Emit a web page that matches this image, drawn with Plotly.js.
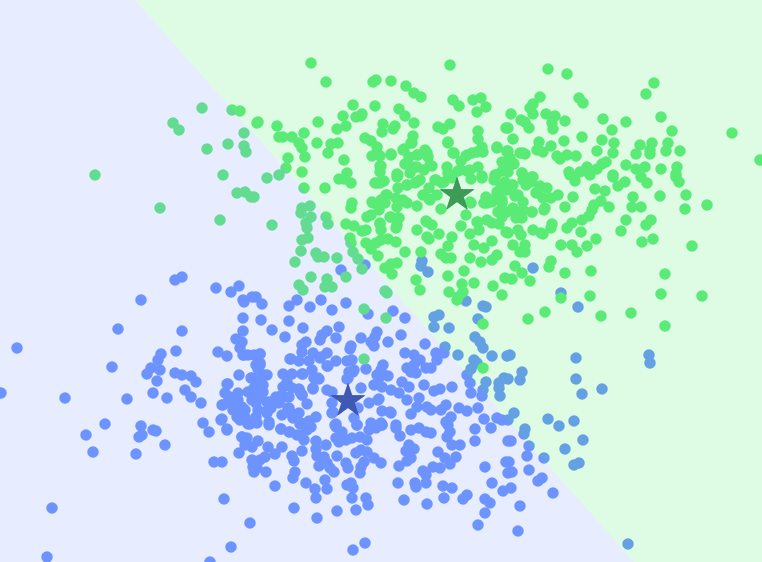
<!DOCTYPE html>
<html>
<head>
<meta charset="utf-8">
<script src="https://cdn.plot.ly/plotly-3.0.1.min.js"></script>
<style>html,body{margin:0;padding:0;background:#fff}#chart{width:762px;height:562px}</style>
</head>
<body>
<div id="chart"></div>
<script>
// values, axes run 0-762 and 0-562 (y down)
const bluePoints = [
[578,307],[510,355],[576,358],[649,355],[650,363],[522,372],[520,380],[508,379],[576,379],[602,389],[582,394],[514,413],[508,420],[548,419],[559,426],[574,421],[525,429],[524,434],[511,441],[529,446],[583,440],[565,449],[527,456],[544,458],[579,463],[574,465],[509,462],[512,472],[529,470],[542,478],[538,481],[511,488],[553,493],[520,506],[518,531],[628,544],
[182,277],[175,280],[216,288],[239,286],[231,292],[252,297],[243,300],[244,302],[141,300],[243,318],[118,329],[182,331],[243,331],[236,339],[242,342],[240,348],[17,348],[176,351],[218,352],[227,356],[244,355],[248,355],[161,354],[158,360],[151,368],[147,374],[160,370],[112,367],[175,373],[182,375],[191,376],[196,382],[157,381],[239,375],[251,378],[228,384],[185,390],[225,393],[238,393],[250,392],[153,393],[1,393],[65,398],[127,399],[167,398],[191,397],[201,403],[222,405],[230,397],[238,400],[233,402],[252,400],[242,407],
[105,424],[86,435],[93,452],[141,426],[142,435],[139,437],[153,430],[156,431],[165,445],[136,454],[203,423],[209,432],[221,420],[227,430],[237,417],[243,413],[247,422],[250,424],[242,437],[247,438],[245,445],[239,453],[252,447],[214,462],[222,462],[252,460],[253,467],[254,472],[224,499],[52,508],[250,523],[231,547],[47,557],[210,562],
[262,304],[289,306],[297,300],[310,307],[321,300],[332,310],[346,303],[368,314],[393,311],[405,318],[261,320],[289,321],[272,330],[303,328],[285,337],[339,327],[327,331],[322,335],[320,340],[336,338],[361,338],[377,332],[375,337],[371,342],[374,346],[388,342],[401,335],[351,346],[350,349],[306,342],[302,345],[302,352],[313,353],[327,353],[260,354],[254,355],[291,359],[299,361],[309,361],[321,357],[336,361],[328,366],[347,361],[352,360],[383,365],[405,353],[414,355],[420,360],[425,344],[436,353],[444,353],[437,360],[445,347],
[434,317],[439,315],[434,327],[449,328],[483,306],[486,307],[478,319],[475,337],[480,342],[483,348],[458,355],[492,356],[507,356],[474,360],[477,363],[471,369],[467,375],[470,383],[471,393],[486,382],[483,390],[482,396],[499,383],[504,378],[500,396],[499,388],
[260,363],[256,365],[264,375],[257,380],[283,374],[292,374],[302,374],[312,370],[314,378],[319,379],[287,382],[283,387],[292,388],[299,389],[313,389],[302,395],[327,390],[332,392],[354,370],[349,372],[347,379],[366,369],[361,388],[381,370],[388,376],[379,378],[374,385],[382,387],[391,390],[399,393],[402,382],[409,387],[407,368],[411,372],[416,373],[414,365],[426,368],[431,368],[424,385],[434,391],[440,389],[452,387],[379,399],[369,403],[407,400],[419,398],[417,407],[427,407],[431,410],[446,405],[441,410],[459,408],[467,411],[478,408],[382,411],[391,413],[411,414],[451,417],[446,422],[484,419],[497,418],[502,420],[276,397],[267,402],[282,398],[289,397],[279,403],[271,408],[267,413],[282,415],[289,408],[291,413],[299,413],[307,404],[316,417],[309,421],[301,423],[332,403],[332,413],[354,418],[336,424],[371,423],[381,423],[396,425],[269,422],[256,417],[259,397],[262,392],[254,388],[256,403],
[269,425],[281,429],[289,432],[297,435],[304,440],[307,430],[311,427],[336,427],[342,432],[357,425],[336,438],[339,442],[346,440],[352,438],[360,437],[367,440],[369,430],[376,428],[382,425],[396,428],[400,436],[411,430],[419,428],[426,432],[431,433],[448,425],[450,432],[447,437],[475,429],[491,428],[475,441],[508,441],[258,441],[268,447],[282,447],[275,454],[265,457],[260,460],[254,463],[257,468],[266,472],[292,456],[294,461],[302,451],[316,441],[316,449],[326,445],[317,456],[324,457],[319,466],[327,463],[330,468],[334,472],[337,456],[346,463],[348,468],[356,453],[361,450],[367,452],[374,458],[381,463],[364,462],[361,467],[360,473],[295,472],[293,478],[275,486],[306,483],[315,489],[325,480],[327,489],[316,498],[347,485],[351,483],[353,488],[352,498],[366,498],[368,505],[294,508],[337,511],[356,510],[317,518],[365,543],[353,550],[399,466],[398,483],[404,500],[409,445],[414,449],[406,451],[411,458],[407,461],[438,452],[445,458],[456,457],[460,445],[452,445],[450,464],[440,468],[433,467],[423,471],[426,475],[426,483],[415,483],[416,487],[443,486],[452,488],[444,498],[427,504],[467,495],[463,499],[485,467],[492,483],[503,491],[485,499],[490,503],[485,513],[478,525],[506,462],[508,473],
[365,265],[341,270],[422,261],[421,266],[428,272],[533,268],[561,293],[466,301],[256,297],
[258,369],[263,385],[233,410],[245,410],[228,402],[240,420],[258,410],
[243,355],[260,354],[260,365],[267,375],[252,378],[260,380],[227,384],[248,392],[263,392],[233,400],[223,405],[237,408],[270,402],[268,410],[245,417],[240,415],[257,423],[248,424],[222,419],[227,429],[242,437],[288,408],[300,392],[302,395],[282,395],[293,418],[300,424],[309,425],[281,429],[290,432],[300,435],[303,374],[318,378],[313,388],[333,412],[335,425],[290,359],[320,358],[327,366],[353,372],[348,378],[378,400],[390,412],[358,408],[357,425],[372,425],[382,425],[377,375]
];
const greenPoints = [
[202,108],[232,110],[240,111],[173,123],[179,130],[244,133],[257,123],[228,144],[244,146],[246,152],[207,149],[95,175],[223,175],[237,193],[245,192],[251,197],[160,208],[220,220],
[311,63],[450,65],[326,82],[373,82],[376,80],[391,81],[406,86],[414,93],[421,97],[453,100],[459,106],[473,100],[481,98],[486,107],[477,112],[353,105],[375,106],[399,109],[405,116],[343,116],[356,117],[362,114],[361,116],[258,122],[277,126],[318,122],[346,126],[337,129],[383,124],[382,132],[395,126],[393,129],[414,123],[438,127],[443,129],[450,124],[478,131],[506,128],[279,137],[283,137],[292,137],[304,133],[299,143],[302,148],[317,143],[331,144],[338,143],[365,138],[371,141],[377,147],[328,153],[305,157],[288,158],[286,168],[344,160],[372,156],[380,156],[391,155],[404,149],[413,136],[411,143],[448,142],[478,139],[454,153],[425,150],[417,155],[428,157],[409,157],[482,147],[483,152],[472,153],[466,156],[461,161],[497,148],[502,162],[507,152],[381,166],[380,172],[302,172],[405,164],[414,167],[432,166],[424,170],[447,167],[458,171],[467,171],[478,167],[397,174],[347,173],[502,171],[496,175],[482,176],
[548,69],[567,74],[654,83],[646,94],[540,97],[533,104],[530,108],[579,98],[583,103],[511,114],[533,114],[546,114],[555,116],[661,117],[603,119],[626,122],[565,121],[521,120],[525,122],[529,128],[552,123],[553,129],[612,130],[508,128],[672,131],[732,133],[513,139],[564,141],[582,137],[602,140],[614,143],[539,142],[551,146],[543,152],[640,145],[652,143],[668,143],[666,151],[680,151],[650,150],[650,154],[636,154],[597,151],[613,153],[520,153],[525,154],[557,156],[560,159],[567,155],[576,156],[508,151],[760,160],[606,162],[602,164],[626,165],[636,169],[645,167],[661,169],[677,167],[676,174],[597,169],[587,167],[580,172],[588,172],[569,172],[613,175],[510,158],[514,164],[510,165],[522,173],[532,177],[508,172],
[595,189],[605,191],[633,197],[660,196],[686,195],[707,205],[685,209],[641,207],[632,207],[609,207],[601,201],[594,205],[592,210],[573,197],[558,195],[551,198],[543,198],[547,188],[536,193],[540,186],[531,182],[523,180],[513,185],[526,185],[575,181],[590,175],[570,175],[613,177],[618,186],[625,182],[641,177],[647,183],[676,177],[679,182],[515,196],[518,195],[523,202],[513,208],[523,210],[532,212],[545,208],[544,210],[565,207],[589,216],[582,220],[572,223],[567,228],[552,224],[551,228],[533,230],[543,234],[541,233],[518,230],[521,235],[508,233],[522,218],[516,218],[581,232],[596,239],[626,220],[621,231],[646,225],[651,220],[642,242],[653,239],[692,246],[513,245],[525,245],[525,252],[520,252],[561,245],[572,245],[577,252],[587,246],[551,261],[549,267],[515,266],[522,273],[512,279],[530,281],[565,273],[591,271],[665,274],[661,294],[702,296],[590,296],[561,298],
[267,178],[279,175],[254,197],[304,188],[325,188],[339,179],[344,179],[351,183],[377,183],[384,181],[398,188],[397,177],[407,185],[417,182],[429,188],[436,180],[444,182],[437,195],[452,178],[471,179],[482,178],[501,187],[494,180],[497,192],[486,197],[492,202],[484,203],[502,200],[471,203],[352,203],[351,208],[372,202],[379,210],[371,215],[367,217],[386,195],[381,200],[396,198],[397,207],[407,203],[417,206],[429,199],[391,217],[399,218],[397,225],[396,228],[441,209],[466,215],[461,226],[426,221],[432,225],[417,230],[470,234],[477,222],[479,230],[487,220],[492,223],[499,224],[501,210],[502,217],[506,232],[346,224],[354,226],[362,231],[366,230],[380,224],[381,230],[427,237],[429,239],[439,234],[452,237],[448,246],[474,245],[484,248],[492,241],[350,238],[351,243],[366,243],[371,249],[376,243],[381,240],[388,239],[396,242],[378,256],[405,252],[421,252],[441,254],[446,258],[451,258],[470,258],[481,262],[497,255],[492,260],[385,268],[391,264],[397,263],[392,274],[448,276],[464,271],[416,280],[420,290],[462,284],[474,283],[493,286],[505,278],[449,292],[463,292],[458,297],[502,295],
[302,208],[310,206],[301,213],[311,217],[306,223],[307,228],[326,217],[328,224],[272,225],[308,238],[302,240],[301,251],[316,253],[318,257],[324,257],[337,258],[295,262],[353,252],[358,259],[362,269],[346,277],[311,277],[299,285],[303,290],[327,279],[325,287],[332,287],[385,291],[387,293],
[528,319],[545,312],[601,316],[631,313],[665,326],[364,309],[386,318],[364,359],[483,324],[483,368],[457,300],
[403,150],[412,143],[418,155],[427,153],[407,163],[417,167],[430,165],[398,175],[410,173],[420,180],[435,180],[407,185],[415,183],[442,183],[423,195],[430,200],[403,200],[387,195],[385,203],[373,203],[448,173],[460,170],[470,170],[453,153],[467,155],[477,152],[448,143],[497,147],[507,151],[513,163],[495,175],[505,182],[512,185],[522,173],[533,177],[517,195],[507,190],[500,197],[492,200],[487,203],[470,202],[502,203],[507,212],[498,212],[517,212],[532,212],[478,222],[377,153],[380,166],[380,183],[391,154],[375,183],[390,217],[398,218],[380,223],[537,192],[537,150],[523,153],[427,222]
];
const centerX = [348, 457];
const centerY = [401, 195];

const blueRegionX = [0, 135, 634, 0];
const blueRegionY = [0, 0, 562, 562];
const greenRegionX = [135, 762, 762, 634];
const greenRegionY = [0, 0, 562, 562];

function pointsTrace(points, color){
  return {
    type: 'scatter',
    mode: 'markers',
    x: points.map(p => p[0]),
    y: points.map(p => p[1]),
    marker: {color: color, size: 11.5, line: {width: 0}},
    hoverinfo: 'skip'
  };
}

// the regions go over the points, that is why a dot changes colour across the line
function regionTrace(x, y, color){
  return {
    type: 'scatter',
    mode: 'none',
    x: x,
    y: y,
    fill: 'toself',
    fillcolor: color,
    hoverinfo: 'skip'
  };
}

const data = [
  pointsTrace(bluePoints, 'rgb(112,150,255)'),
  pointsTrace(greenPoints, 'rgb(100,236,127)'),
  regionTrace(blueRegionX, blueRegionY, 'rgba(95,135,255,0.15)'),
  regionTrace(greenRegionX, greenRegionY, 'rgba(35,228,68,0.15)'),
  {
    type: 'scatter',
    mode: 'markers',
    x: centerX,
    y: centerY,
    marker: {
      symbol: 'star',
      size: 25,
      color: ['rgb(62,88,180)', 'rgb(60,155,85)'],
      line: {width: 1, color: ['rgba(50,72,160,0.7)', 'rgba(50,135,75,0.7)']}
    },
    hoverinfo: 'skip'
  }
];

const layout = {
  width: 762,
  height: 562,
  margin: {l: 0, r: 0, t: 0, b: 0},
  showlegend: false,
  paper_bgcolor: 'white',
  plot_bgcolor: 'white',
  xaxis: {range: [0, 762], visible: false, fixedrange: true},
  yaxis: {range: [562, 0], visible: false, fixedrange: true}
};

Plotly.newPlot('chart', data, layout, {displayModeBar: false, staticPlot: true});
</script>
</body>
</html>
